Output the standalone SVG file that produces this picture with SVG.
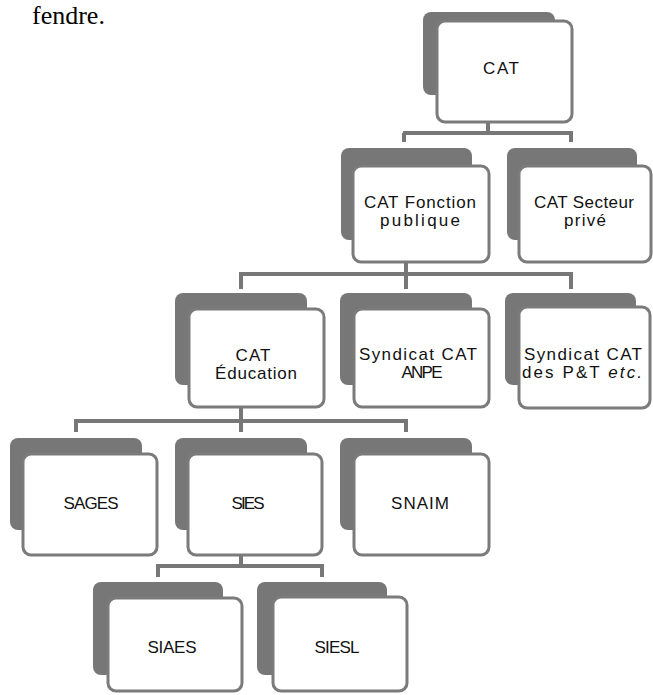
<svg xmlns="http://www.w3.org/2000/svg" width="653" height="695" viewBox="0 0 653 695">
<style>
.back{fill:#777777;}
.front{fill:#ffffff;stroke:#7b7b7b;stroke-width:3;}
.lbl{font-family:"Liberation Sans",Arial,sans-serif;font-size:17px;fill:#111111;text-anchor:middle;}
.conn{fill:none;stroke:#777777;stroke-width:4;}
.page{font-family:"Liberation Serif","Times New Roman",serif;font-size:26px;fill:#000000;}
</style>
<rect width="653" height="695" fill="#ffffff"/>
<text class="page" x="32" y="24">fendre.</text>
<g id="connectors">
<path class="conn" d="M488,123 V133 M403,133 H573 M404,133 V142 M571,133 V142"/>
<path class="conn" d="M406,263 V274 M239,274 H573 M241,274 V289 M406,274 V289 M571,274 V289"/>
<path class="conn" d="M241,408 V421 M74,421 H408 M76,421 V432 M241,421 V432 M406,421 V432"/>
<path class="conn" d="M241,556 V566 M156,566 H324 M158,566 V577 M322,566 V577"/>
</g>
<g id="n-cat">
<rect class="back" x="423" y="12" width="132" height="83" rx="8"/>
<rect class="front" x="437" y="21" width="135" height="101" rx="8"/>
<text class="lbl" x="501" y="74" textLength="36" lengthAdjust="spacing">CAT</text>
</g>
<g id="n-fonction">
<rect class="back" x="341" y="148" width="131" height="92" rx="8"/>
<rect class="front" x="353" y="166" width="136" height="96" rx="8"/>
<text class="lbl" x="420" y="208" textLength="112" lengthAdjust="spacing">CAT Fonction</text>
<text class="lbl" x="420" y="226" textLength="80" lengthAdjust="spacing">publique</text>
</g>
<g id="n-prive">
<rect class="back" x="507" y="148" width="130" height="92" rx="8"/>
<rect class="front" x="519" y="166" width="132" height="96" rx="8"/>
<text class="lbl" x="584" y="208" textLength="100" lengthAdjust="spacing">CAT Secteur</text>
<text class="lbl" x="585" y="226" textLength="42" lengthAdjust="spacing">privé</text>
</g>
<g id="n-education">
<rect class="back" x="175" y="293" width="132" height="92" rx="8"/>
<rect class="front" x="189" y="309" width="135" height="98" rx="8"/>
<text class="lbl" x="253" y="361" textLength="35" lengthAdjust="spacing">CAT</text>
<text class="lbl" x="256" y="379" textLength="82" lengthAdjust="spacing">Éducation</text>
</g>
<g id="n-anpe">
<rect class="back" x="340" y="293" width="132" height="92" rx="8"/>
<rect class="front" x="354" y="309" width="135" height="98" rx="8"/>
<text class="lbl" x="418" y="360" textLength="118" lengthAdjust="spacing">Syndicat CAT</text>
<text class="lbl" x="422" y="378" textLength="41" lengthAdjust="spacing">ANPE</text>
</g>
<g id="n-ptt">
<rect class="back" x="505" y="293" width="131" height="92" rx="8"/>
<rect class="front" x="519" y="307" width="131" height="101" rx="8"/>
<text class="lbl" x="583" y="360" textLength="118" lengthAdjust="spacing">Syndicat CAT</text>
<text class="lbl" x="582" y="378" textLength="120" lengthAdjust="spacing">des P&amp;T <tspan font-style="italic">etc.</tspan></text>
</g>
<g id="n-sages">
<rect class="back" x="10" y="438" width="132" height="92" rx="8"/>
<rect class="front" x="23" y="454" width="134" height="101" rx="8"/>
<text class="lbl" x="91" y="509" textLength="55" lengthAdjust="spacing">SAGES</text>
</g>
<g id="n-sies">
<rect class="back" x="175" y="438" width="132" height="92" rx="8"/>
<rect class="front" x="188" y="454" width="134" height="101" rx="8"/>
<text class="lbl" x="248" y="509" textLength="33" lengthAdjust="spacing">SIES</text>
</g>
<g id="n-snaim">
<rect class="back" x="340" y="438" width="132" height="92" rx="8"/>
<rect class="front" x="354" y="454" width="135" height="101" rx="8"/>
<text class="lbl" x="420" y="509" textLength="58" lengthAdjust="spacing">SNAIM</text>
</g>
<g id="n-siaes">
<rect class="back" x="93" y="582" width="130" height="93" rx="8"/>
<rect class="front" x="108" y="598" width="134" height="93" rx="8"/>
<text class="lbl" x="172" y="653" textLength="49" lengthAdjust="spacing">SIAES</text>
</g>
<g id="n-siesl">
<rect class="back" x="257" y="582" width="130" height="93" rx="8"/>
<rect class="front" x="273" y="597" width="134" height="94" rx="8"/>
<text class="lbl" x="337" y="653" textLength="45" lengthAdjust="spacing">SIESL</text>
</g>
</svg>
